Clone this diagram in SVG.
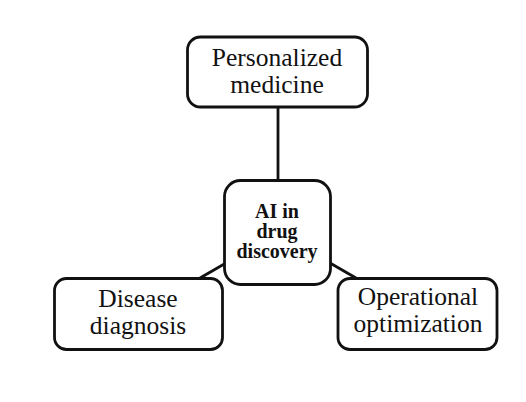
<svg xmlns="http://www.w3.org/2000/svg" width="526" height="402" viewBox="0 0 526 402">
<style>
.box{fill:#fff;stroke:#111;stroke-width:2.8}
.ln{stroke:#111;stroke-width:2.8;fill:none}
.t{font-family:"Liberation Serif",serif;font-size:25.5px;fill:#111;text-anchor:middle}
.b{font-family:"Liberation Serif",serif;font-size:20px;font-weight:bold;fill:#111;text-anchor:middle}
</style>
<rect width="526" height="402" fill="#fff"/>
<g id="connectors">
<line class="ln" x1="278" y1="107" x2="278" y2="181"/>
<line class="ln" x1="226" y1="263" x2="200" y2="278"/>
<line class="ln" x1="330" y1="263" x2="356" y2="278"/>
</g>
<g id="personalized">
<rect class="box" x="187.5" y="37" width="180" height="70" rx="13"/>
<text class="t" x="277" y="66">Personalized</text>
<text class="t" x="277" y="93">medicine</text>
</g>
<g id="ai">
<rect class="box" x="224.5" y="180.5" width="106" height="104" rx="16"/>
<text class="b" x="277" y="218">AI in</text>
<text class="b" x="277" y="238">drug</text>
<text class="b" x="277" y="258">discovery</text>
</g>
<g id="disease">
<rect class="box" x="54.5" y="278.5" width="168" height="71" rx="12"/>
<text class="t" x="138" y="307">Disease</text>
<text class="t" x="138" y="334">diagnosis</text>
</g>
<g id="operational">
<rect class="box" x="338" y="278.5" width="159" height="71" rx="12"/>
<text class="t" x="418" y="305">Operational</text>
<text class="t" x="418" y="332">optimization</text>
</g>
</svg>
